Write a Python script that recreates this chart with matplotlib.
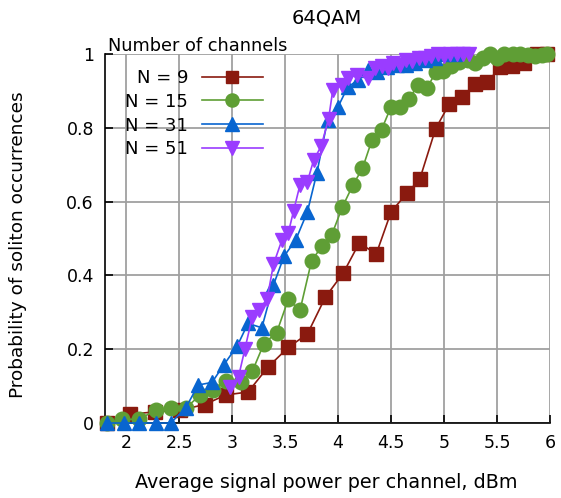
import numpy as np
import matplotlib
matplotlib.use("Agg")
import matplotlib.pyplot as plt

# values
red_x = [1.82, 2.04, 2.27, 2.51, 2.74, 2.94, 3.15, 3.34, 3.53, 3.71, 3.88, 4.05, 4.20, 4.36,
         4.50, 4.65, 4.77, 4.92, 5.05, 5.17, 5.29, 5.41, 5.53, 5.64, 5.75, 5.88, 5.97]
red_y = [0.0, 0.024, 0.03, 0.035, 0.05, 0.076, 0.084, 0.152, 0.205, 0.241, 0.341, 0.407, 0.488, 0.458,
         0.572, 0.623, 0.66, 0.797, 0.865, 0.883, 0.918, 0.924, 0.965, 0.967, 0.975, 1.0, 1.0]

green_x = [1.82, 1.96, 2.12, 2.28, 2.42, 2.56, 2.70, 2.82, 2.94, 3.08, 3.19, 3.30, 3.42, 3.53, 3.64,
           3.75, 3.85, 3.94, 4.04, 4.14, 4.23, 4.32, 4.41, 4.50, 4.58, 4.67, 4.75, 4.84, 4.92, 4.99,
           5.07, 5.14, 5.23, 5.29, 5.37, 5.43, 5.50, 5.57, 5.65, 5.72, 5.79, 5.86, 5.92, 5.97]
green_y = [0.0, 0.01, 0.01, 0.035, 0.04, 0.04, 0.076, 0.09, 0.115, 0.11, 0.14, 0.215, 0.245, 0.335, 0.305,
           0.44, 0.48, 0.51, 0.585, 0.645, 0.69, 0.767, 0.795, 0.857, 0.857, 0.878, 0.915, 0.908, 0.95, 0.955,
           0.967, 0.978, 0.984, 0.976, 0.99, 1.0, 0.99, 1.0, 1.0, 1.0, 0.997, 0.995, 0.997, 1.0]

blue_x = [1.82, 1.98, 2.12, 2.28, 2.42, 2.56, 2.68, 2.81, 2.92, 3.05, 3.15, 3.28, 3.39, 3.49, 3.60,
          3.71, 3.80, 3.90, 4.00, 4.09, 4.19, 4.28, 4.37, 4.46, 4.56, 4.64, 4.73, 4.82, 4.91, 5.00, 5.10]
blue_y = [0.0, 0.0, 0.0, 0.0, 0.0, 0.04, 0.103, 0.11, 0.157, 0.21, 0.27, 0.258, 0.374, 0.452, 0.496,
          0.572, 0.678, 0.82, 0.857, 0.91, 0.93, 0.957, 0.95, 0.965, 0.97, 0.97, 0.976, 0.985, 0.99, 1.0, 1.0]

purple_x = [2.98, 3.06, 3.12, 3.19, 3.25, 3.33, 3.39, 3.47, 3.53, 3.58, 3.64, 3.71, 3.77, 3.84, 3.91,
            3.95, 4.04, 4.09, 4.18, 4.28, 4.35, 4.41, 4.47, 4.52, 4.58, 4.64, 4.70, 4.76, 4.82, 4.88,
            4.94, 5.00, 5.06, 5.12, 5.18, 5.24]
purple_y = [0.098, 0.125, 0.2, 0.288, 0.306, 0.336, 0.43, 0.496, 0.515, 0.575, 0.645, 0.654, 0.713, 0.75, 0.824,
            0.902, 0.916, 0.935, 0.943, 0.935, 0.962, 0.967, 0.962, 0.975, 0.97, 0.985, 0.98, 0.99, 0.99, 0.995,
            1.0, 0.995, 1.0, 1.0, 1.0, 1.0]

labels = ["N = 9", "N = 15", "N = 31", "N = 51"]
x_ticks = [2, 2.5, 3, 3.5, 4, 4.5, 5, 5.5, 6]
x_ticklabels = ["2", "2.5", "3", "3.5", "4", "4.5", "5", "5.5", "6"]
y_ticks = [0, 0.2, 0.4, 0.6, 0.8, 1]
y_ticklabels = ["0", "0.2", "0.4", "0.6", "0.8", "1"]

W, H = 561, 498
fig = plt.figure(figsize=(W / 100, H / 100), dpi=100)
ax = fig.add_axes([105 / W, 1 - 423 / H, 445 / W, 369 / H])

series = [
    (red_x, red_y, "#8a1a0f", "s", 10),
    (green_x, green_y, "#5f9e35", "o", 10.5),
    (blue_x, blue_y, "#0865d0", "^", 10.5),
    (purple_x, purple_y, "#9a3cff", "v", 10.5),
]
for (xs, ys, col, mk, ms), lab in zip(series, labels):
    ax.plot(xs, ys, color=col, marker=mk, markersize=ms, lw=1.2,
            label=lab, clip_on=False, zorder=3)

ax.set_xlim(1.8, 6)
ax.set_ylim(0, 1)
ax.set_xticks(x_ticks)
ax.set_xticklabels(x_ticklabels)
ax.set_yticks(y_ticks)
ax.set_yticklabels(y_ticklabels)
ax.tick_params(direction="in", length=6, width=1.2, labelsize=12.5, pad=8)
ax.grid(True, color="#a0a0a0", lw=1.3)
for s in ["top", "right"]:
    ax.spines[s].set_visible(False)
for s in ["left", "bottom"]:
    ax.spines[s].set_linewidth(1.2)

ax.set_xlabel("Average signal power per channel, dBm", fontsize=13.8)
ax.xaxis.set_label_coords((326 - 105) / 445, -(482 - 423) / 369)
ax.xaxis.label.set_va("center")
ax.set_ylabel("Probability of soliton occurrences", fontsize=13.3)
ax.yaxis.set_label_coords(-(105 - 18) / 445, (423 - 245) / 369)
ax.yaxis.label.set_va("center")

fig.text(327 / W, 1 - 18 / H, "64QAM", ha="center", va="center", fontsize=14)
fig.text(108 / W, 1 - 46 / H, "Number of channels", ha="left", va="center", fontsize=12.8)

leg = ax.legend(loc="upper right", bbox_to_anchor=(263 / W, 1 - 69 / H),
                bbox_transform=fig.transFigure, frameon=False, markerfirst=False,
                fontsize=13, handlelength=3.4, handletextpad=0.75, labelspacing=0.32,
                borderpad=0, borderaxespad=0, markerscale=0.9)

fig.savefig("out.png", dpi=100)
